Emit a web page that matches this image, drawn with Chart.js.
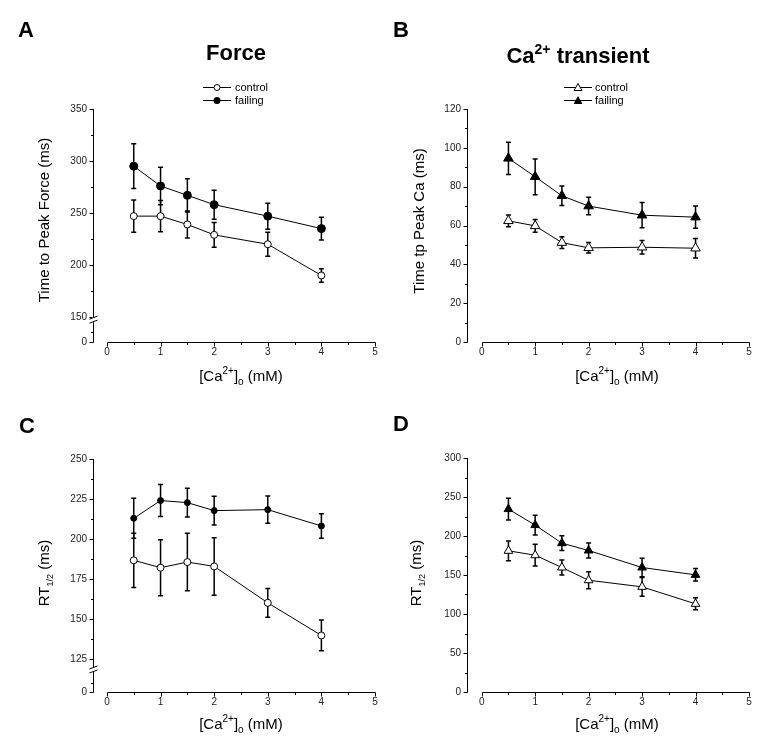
<!DOCTYPE html>
<html>
<head>
<meta charset="utf-8">
<script src="https://cdn.jsdelivr.net/npm/chart.js@4.4.1/dist/chart.umd.min.js"></script>
<style>
  body { margin: 0; background: #fff; }
  #fig { position: relative; width: 773px; height: 756px; background: #fff; overflow: hidden;
         font-family: "Liberation Sans", Arial, sans-serif; color: #000; }
  canvas.cv { position: absolute; }
  .t { position: absolute; white-space: nowrap; line-height: 1; }
  .letter { font-weight: bold; font-size: 22px; }
  .ptitle { font-weight: bold; font-size: 22px; transform: translateX(-50%); }
  .xt { font-size: 15px; transform: translateX(-50%); }
  .yt { font-size: 15px; transform: translate(-50%, -50%) rotate(-90deg); }
  .sup { position: relative; font-size: 10px; top: -7px; }
  .tsup { position: relative; font-size: 14px; top: -9px; }
  .sub { position: relative; font-size: 10px; top: 4px; }
  .sub9 { position: relative; font-size: 9px; top: 4px; }
  .leg { position: absolute; font-size: 11px; line-height: 12px; height: 12px; display: flex; align-items: center; white-space: nowrap; }
  .leg svg { display: block; }
</style>
</head>
<body>
<div id="fig">
  <canvas id="cA" class="cv" width="390" height="390" style="left:0;top:0"></canvas>
  <canvas id="cB" class="cv" width="383" height="390" style="left:390px;top:0"></canvas>
  <canvas id="cC" class="cv" width="390" height="366" style="left:0;top:390px"></canvas>
  <canvas id="cD" class="cv" width="383" height="366" style="left:390px;top:390px"></canvas>

  <div class="t letter" style="left:18px;top:19px">A</div>
  <div class="t letter" style="left:393px;top:19px">B</div>
  <div class="t letter" style="left:19px;top:415px">C</div>
  <div class="t letter" style="left:393px;top:413px">D</div>

  <div class="t ptitle" style="left:236px;top:42px">Force</div>
  <div class="t ptitle" style="left:578px;top:45px">Ca<span class="tsup">2+</span> transient</div>

  <div class="leg" style="left:203px;top:81px"><svg width="28" height="12"><line x1="0" y1="6.5" x2="28" y2="6.5" stroke="#000" stroke-width="1"/><circle cx="14" cy="6.5" r="3" fill="#fff" stroke="#000" stroke-width="1"/></svg><span style="margin-left:4px">control</span></div>
  <div class="leg" style="left:203px;top:94px"><svg width="28" height="12"><line x1="0" y1="6.5" x2="28" y2="6.5" stroke="#000" stroke-width="1"/><circle cx="14" cy="6.5" r="3.5" fill="#000"/></svg><span style="margin-left:4px">failing</span></div>

  <div class="leg" style="left:564px;top:81px"><svg width="28" height="12"><line x1="0" y1="6.5" x2="28" y2="6.5" stroke="#000" stroke-width="1"/><polygon points="14,2.5 18,9.5 10,9.5" fill="#fff" stroke="#000" stroke-width="1"/></svg><span style="margin-left:3px">control</span></div>
  <div class="leg" style="left:564px;top:94px"><svg width="28" height="12"><line x1="0" y1="6.5" x2="28" y2="6.5" stroke="#000" stroke-width="1"/><polygon points="14,2 18.5,10 9.5,10" fill="#000"/></svg><span style="margin-left:3px">failing</span></div>

  <div class="t yt" style="left:43px;top:220px">Time to Peak Force (ms)</div>
  <div class="t yt" style="left:418px;top:221px">Time tp Peak Ca (ms)</div>
  <div class="t yt" style="left:43px;top:573px">RT<span class="sub9">1/2</span> (ms)</div>
  <div class="t yt" style="left:415px;top:573px">RT<span class="sub9">1/2</span> (ms)</div>

  <div class="t xt" style="left:241px;top:368px">[Ca<span class="sup">2+</span>]<span class="sub">o</span> (mM)</div>
  <div class="t xt" style="left:617px;top:368px">[Ca<span class="sup">2+</span>]<span class="sub">o</span> (mM)</div>
  <div class="t xt" style="left:241px;top:716px">[Ca<span class="sup">2+</span>]<span class="sub">o</span> (mM)</div>
  <div class="t xt" style="left:617px;top:716px">[Ca<span class="sup">2+</span>]<span class="sub">o</span> (mM)</div>
</div>

<script>
// ---------------- data ----------------
const concentrations = [0.5, 1, 1.5, 2, 3, 4];          // [Ca2+]o (mM)
const xTickValues = [0, 1, 2, 3, 4, 5];
const xMinorTicks = [0.5, 1.5, 2.5, 3.5, 4.5];

// A: time to peak force (ms)
const ttpForceControl    = [247, 247, 239, 229, 220, 190];
const ttpForceControlErr = [15.5, 15, 13, 12, 11.5, 6.5];
const ttpForceFailing    = [295, 276, 267, 258, 247, 235];
const ttpForceFailingErr = [21.5, 18, 16, 14, 12.5, 11];
const forceYTicks = [150, 200, 250, 300, 350];
const forceYMinor = [175, 225, 275, 325];

// B: time to peak Ca (ms)
const ttpCaControl    = [62.4, 59.8, 51.2, 48.5, 48.8, 48.3];
const ttpCaControlErr = [3, 3.3, 3, 2.7, 3.5, 5];
const ttpCaFailing    = [94.6, 85.1, 75.3, 70, 65.3, 64.3];
const ttpCaFailingErr = [8.3, 9.2, 5, 4.5, 6.5, 5.7];
const caYTicks = [0, 20, 40, 60, 80, 100, 120];
const caYMinor = [10, 30, 50, 70, 90, 110];

// C: RT1/2 force (ms)
const rtForceControl    = [186.6, 182, 185.5, 182.8, 160, 139.6];
const rtForceControlErr = [17, 17.5, 18, 18, 9, 9.6];
const rtForceFailing    = [212.9, 224, 222.7, 217.7, 218.3, 208.1];
const rtForceFailingErr = [12.5, 10, 9, 9, 8.5, 7.7];
const rtForceYTicks = [125, 150, 175, 200, 225, 250];
const rtForceYMinor = [137.5, 162.5, 187.5, 212.5, 237.5];

// D: RT1/2 Ca transient (ms)
const rtCaControl    = [181, 175.4, 159.6, 143.3, 134.8, 113];
const rtCaControlErr = [12.6, 14, 9.6, 11, 12, 7.7];
const rtCaFailing    = [234.5, 214, 190.8, 181.4, 159.6, 150.2];
const rtCaFailingErr = [14, 12.7, 9.5, 9.5, 12, 8];
const rtCaYTicks = [0, 50, 100, 150, 200, 250, 300];
const rtCaYMinor = [25, 75, 125, 175, 225, 275];

// ---------------- chart setup ----------------
Chart.defaults.font.family = '"Liberation Sans", Arial, sans-serif';
Chart.defaults.font.size = 10;
Chart.defaults.color = '#222';

function pts(xs, ys) { return xs.map((x, i) => ({ x: x, y: ys[i] })); }

function makePanel(id, p) {
  const errorBars = {
    id: 'errorBars_' + id,
    beforeDatasetsDraw(chart) {
      const { ctx, scales: { x, y } } = chart;
      ctx.save();
      ctx.strokeStyle = '#000';
      ctx.lineWidth = 1.5;
      chart.data.datasets.forEach(ds => {
        ds.data.forEach((pt, j) => {
          const e = ds.errors[j];
          const px = x.getPixelForValue(pt.x);
          const yt = y.getPixelForValue(pt.y + e);
          const yb = y.getPixelForValue(pt.y - e);
          ctx.beginPath();
          ctx.moveTo(px, yt); ctx.lineTo(px, yb);
          ctx.moveTo(px - 2.5, yt); ctx.lineTo(px + 2.5, yt);
          ctx.moveTo(px - 2.5, yb); ctx.lineTo(px + 2.5, yb);
          ctx.stroke();
        });
      });
      ctx.restore();
    }
  };
  const axes = {
    id: 'axes_' + id,
    afterDraw(chart) {
      const { ctx, chartArea: ca, scales: { x, y } } = chart;
      ctx.save();
      ctx.strokeStyle = '#000';
      ctx.lineWidth = 1;
      const ax = Math.round(ca.left) + 0.5;
      const ay = Math.round(ca.bottom) + 0.5;
      ctx.beginPath();
      ctx.moveTo(ax, ca.top); ctx.lineTo(ax, ay);
      ctx.moveTo(Math.round(x.getPixelForValue(0)) + 0.5, ay);
      ctx.lineTo(Math.round(x.getPixelForValue(5)) + 0.5, ay);
      // y ticks
      const yMajor = p.brk != null ? [p.yMin].concat(p.yTicks) : p.yTicks;
      yMajor.forEach(v => { const py = Math.round(y.getPixelForValue(v)) + 0.5; ctx.moveTo(ax - 4, py); ctx.lineTo(ax, py); });
      p.yMinor.forEach(v => { const py = Math.round(y.getPixelForValue(v)) + 0.5; ctx.moveTo(ax - 2.5, py); ctx.lineTo(ax, py); });
      // x ticks
      xTickValues.forEach(v => { const px = Math.round(x.getPixelForValue(v)) + 0.5; ctx.moveTo(px, ay); ctx.lineTo(px, ay + 4); });
      xMinorTicks.forEach(v => { const px = Math.round(x.getPixelForValue(v)) + 0.5; ctx.moveTo(px, ay); ctx.lineTo(px, ay + 2.5); });
      ctx.stroke();
      // axis break
      if (p.brk != null) {
        const yb = y.getPixelForValue(p.brk);
        ctx.fillStyle = '#fff';
        ctx.fillRect(ax - 1.5, yb - 2.5, 3, 5);
        ctx.beginPath();
        ctx.moveTo(ax - 4, yb - 0.5); ctx.lineTo(ax + 4, yb - 3.5);
        ctx.moveTo(ax - 4, yb + 3.5); ctx.lineTo(ax + 4, yb + 0.5);
        ctx.stroke();
      }
      ctx.restore();
    }
  };

  return new Chart(document.getElementById(id), {
    type: 'line',
    data: {
      datasets: [
        {
          label: 'failing', data: pts(concentrations, p.fail), errors: p.failErr,
          borderColor: '#000', borderWidth: 1, backgroundColor: '#000',
          pointStyle: p.marker, pointRadius: p.rFail, pointBackgroundColor: '#000',
          pointBorderColor: '#000', pointBorderWidth: 1, tension: 0, fill: false
        },
        {
          label: 'control', data: pts(concentrations, p.ctrl), errors: p.ctrlErr,
          borderColor: '#000', borderWidth: 1, backgroundColor: '#fff',
          pointStyle: p.marker, pointRadius: p.rCtrl, pointBackgroundColor: '#fff',
          pointBorderColor: '#000', pointBorderWidth: 1, tension: 0, fill: false
        }
      ]
    },
    options: {
      responsive: false, animation: false, events: [],
      layout: { padding: p.padding },
      plugins: { legend: { display: false }, tooltip: { enabled: false }, title: { display: false } },
      scales: {
        x: {
          type: 'linear', min: p.xMin, max: 5,
          grid: { display: false, drawTicks: false }, border: { display: false },
          afterBuildTicks: s => { s.ticks = xTickValues.map(v => ({ value: v })); },
          afterFit: s => { s.height = 20; },
          ticks: { autoSkip: false, maxRotation: 0, minRotation: 0, padding: 4, callback: v => String(v) }
        },
        y: {
          type: 'linear', min: p.yMin, max: p.yMax,
          grid: { display: false, drawTicks: false }, border: { display: false },
          afterBuildTicks: s => {
            const vals = p.brk != null ? [p.yMin].concat(p.yTicks) : p.yTicks;
            s.ticks = vals.map(v => ({ value: v }));
          },
          afterFit: s => { s.width = p.yWidth; },
          ticks: { autoSkip: false, padding: 6, callback: v => (p.brk != null && v === p.yMin) ? '0' : String(v) }
        }
      }
    },
    plugins: [errorBars, axes]
  });
}

makePanel('cA', {
  ctrl: ttpForceControl, ctrlErr: ttpForceControlErr, fail: ttpForceFailing, failErr: ttpForceFailingErr,
  marker: 'circle', rCtrl: 3.5, rFail: 4,
  xMin: -0.26, yMin: 126, yMax: 350, yTicks: forceYTicks, yMinor: [136].concat(forceYMinor), brk: 147.5,
  yWidth: 93, padding: { left: 0, top: 109, right: 15, bottom: 28 }
});
makePanel('cB', {
  ctrl: ttpCaControl, ctrlErr: ttpCaControlErr, fail: ttpCaFailing, failErr: ttpCaFailingErr,
  marker: 'triangle', rCtrl: 5.5, rFail: 5.5,
  xMin: -0.275, yMin: 0, yMax: 120, yTicks: caYTicks, yMinor: caYMinor, brk: null,
  yWidth: 77, padding: { left: 0, top: 109, right: 24, bottom: 28 }
});
makePanel('cC', {
  ctrl: rtForceControl, ctrlErr: rtForceControlErr, fail: rtForceFailing, failErr: rtForceFailingErr,
  marker: 'circle', rCtrl: 3.5, rFail: 3,
  xMin: -0.26, yMin: 104.2, yMax: 250, yTicks: rtForceYTicks, yMinor: [110].concat(rtForceYMinor), brk: 118.3,
  yWidth: 93, padding: { left: 0, top: 69, right: 15, bottom: 44 }
});
makePanel('cD', {
  ctrl: rtCaControl, ctrlErr: rtCaControlErr, fail: rtCaFailing, failErr: rtCaFailingErr,
  marker: 'triangle', rCtrl: 5, rFail: 5,
  xMin: -0.275, yMin: 0, yMax: 300, yTicks: rtCaYTicks, yMinor: rtCaYMinor, brk: null,
  yWidth: 77, padding: { left: 0, top: 68, right: 24, bottom: 44 }
});
</script>
</body>
</html>
